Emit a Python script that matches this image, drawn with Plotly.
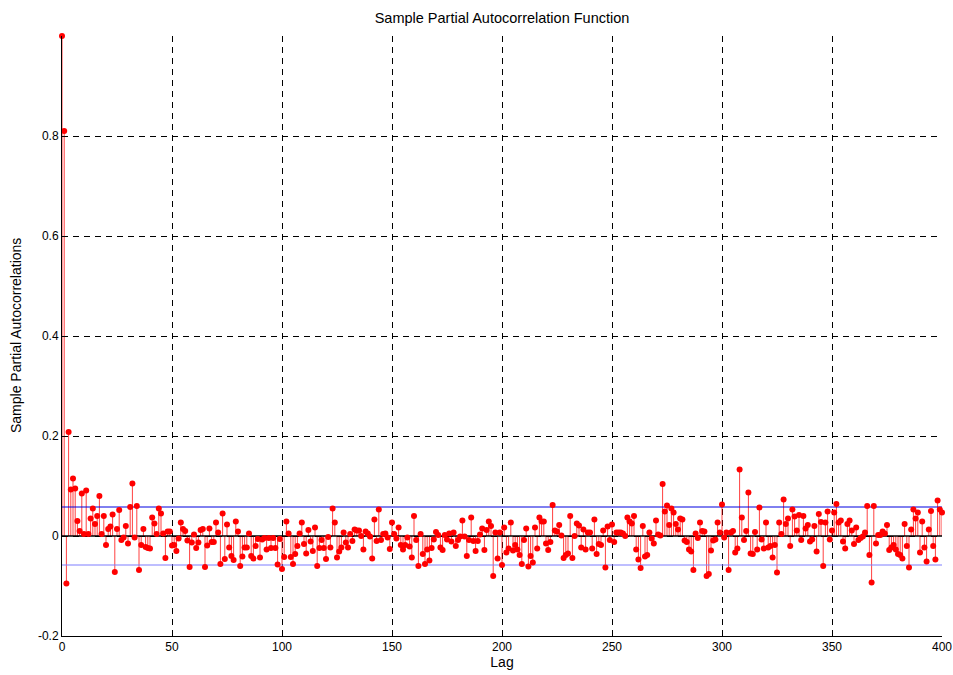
import plotly.graph_objects as go

# Lags 0..400
lags = list(range(401))

pacf_0_39 = [1.0, 0.81, -0.095, 0.208, 0.093, 0.115, 0.095, 0.03, 0.01, 0.085,
             0.004, 0.091, 0.004, 0.035, 0.055, 0.024, 0.04, 0.08, 0.004, 0.04,
             -0.018, 0.014, 0.019, 0.043, -0.072, 0.014, 0.052, -0.008, -0.003, 0.02,
             -0.015, 0.058, 0.105, -0.003, 0.06, -0.068, -0.018, 0.014, -0.022, -0.024]
pacf_40_79 = [-0.025, 0.037, 0.025, 0.004, 0.055, 0.045, 0.005, -0.044, 0.009, 0.009,
              -0.019, -0.018, -0.03, -0.005, 0.027, 0.014, 0.01, -0.009, -0.062, -0.013,
              0.003, -0.024, -0.013, 0.012, 0.014, -0.062, -0.019, 0.015, -0.012, -0.012,
              0.027, 0.007, -0.056, 0.045, -0.046, 0.023, -0.023, -0.04, -0.048, 0.029]
pacf_80_119 = [0.009, -0.06, -0.041, -0.023, -0.023, 0.005, -0.04, -0.045, -0.02, -0.006,
               -0.043, -0.007, -0.004, -0.027, -0.004, -0.024, -0.004, -0.024, -0.057, -0.006,
               -0.066, -0.042, 0.029, 0.005, -0.042, -0.056, -0.036, -0.02, 0.005, 0.027,
               -0.016, -0.035, 0.012, -0.011, -0.03, 0.017, -0.06, -0.024, -0.008, -0.024]
pacf_120_159 = [-0.046, -0.002, -0.023, 0.055, 0.027, -0.043, -0.031, -0.023, 0.007, -0.013,
                -0.023, 0.004, -0.01, 0.013, 0.011, 0.011, 0.0, -0.027, 0.009, 0.005,
                -0.001, -0.045, 0.033, -0.01, 0.053, -0.008, 0.004, 0.005, -0.003, -0.026,
                0.027, 0.004, -0.005, 0.017, -0.018, -0.027, -0.018, -0.003, -0.021, -0.043]
pacf_160_199 = [0.04, -0.008, -0.06, 0.004, -0.036, -0.056, -0.027, -0.049, -0.024, -0.007,
                0.008, 0.002, -0.023, -0.028, 0.002, -0.007, 0.005, -0.011, 0.007, -0.02,
                -0.008, -0.001, 0.031, -0.001, -0.04, -0.008, 0.037, -0.01, -0.03, -0.01,
                0.003, 0.015, -0.028, 0.012, 0.029, 0.02, -0.08, 0.007, -0.045, 0.007]
pacf_200_239 = [-0.058, 0.017, -0.033, -0.025, 0.027, -0.029, -0.018, -0.027, -0.038, -0.056,
                -0.008, 0.015, -0.061, -0.04, -0.053, 0.017, -0.025, 0.037, 0.029, 0.029,
                -0.015, -0.028, -0.012, 0.062, 0.011, 0.009, 0.022, 0.001, -0.044, -0.038,
                -0.035, 0.04, -0.044, 0.0, 0.025, 0.021, -0.023, 0.013, -0.027, 0.007]
pacf_240_279 = [0.007, -0.025, 0.033, -0.036, -0.016, -0.018, 0.011, -0.063, 0.019, -0.008,
                0.023, -0.012, 0.007, 0.007, 0.007, 0.005, 0.0, 0.037, 0.029, 0.025,
                0.04, -0.027, -0.047, -0.064, 0.02, -0.041, -0.038, 0.007, -0.005, -0.015,
                0.031, 0.003, 0.001, 0.104, 0.049, 0.061, 0.022, 0.055, 0.047, 0.024]
pacf_280_319 = [0.013, 0.035, 0.033, -0.009, -0.012, -0.027, -0.031, -0.068, 0.005, -0.004,
                0.027, 0.01, 0.009, -0.08, -0.076, -0.029, -0.009, -0.007, 0.027, 0.007,
                0.063, -0.003, 0.007, -0.068, 0.007, 0.01, -0.033, -0.025, 0.133, 0.037,
                -0.008, 0.01, 0.087, -0.035, -0.036, 0.008, -0.027, 0.057, -0.007, -0.025]
pacf_320_359 = [0.027, -0.023, -0.02, -0.043, -0.018, -0.073, 0.027, 0.004, 0.073, 0.024,
                0.035, -0.02, 0.053, 0.039, 0.011, 0.042, -0.008, 0.04, 0.015, 0.022,
                -0.011, -0.007, 0.02, -0.031, 0.044, 0.028, -0.06, 0.027, 0.049, -0.007,
                0.011, 0.047, 0.064, 0.027, 0.031, -0.011, -0.025, 0.024, 0.031, 0.011]
pacf_360_400 = [-0.016, 0.017, -0.008, -0.004, -0.001, 0.007, 0.06, -0.038, -0.093, 0.06,
                -0.015, 0.002, 0.002, 0.009, 0.005, 0.022, -0.028, -0.023, -0.018, -0.027,
                -0.036, -0.038, -0.045, 0.024, -0.02, -0.063, 0.013, 0.053, 0.035, 0.047,
                -0.033, 0.029, -0.023, -0.051, 0.013, 0.05, -0.02, -0.047, 0.071, 0.053,
                0.047]

pacf = (pacf_0_39 + pacf_40_79 + pacf_80_119 + pacf_120_159 + pacf_160_199 +
        pacf_200_239 + pacf_240_279 + pacf_280_319 + pacf_320_359 + pacf_360_400)

conf_bound = 0.058
x_ticks = [0, 50, 100, 150, 200, 250, 300, 350, 400]
y_ticks = [-0.2, 0, 0.2, 0.4, 0.6, 0.8]
y_tick_text = ["-0.2", "0", "0.2", "0.4", "0.6", "0.8"]

# stems
stem_x, stem_y = [], []
for lg, v in zip(lags, pacf):
    stem_x += [lg, lg, None]
    stem_y += [0, v, None]

fig = go.Figure()
fig.add_trace(go.Scatter(x=stem_x, y=stem_y, mode="lines",
                         line=dict(color="rgba(255,0,0,0.75)", width=1),
                         hoverinfo="skip", showlegend=False))
fig.add_trace(go.Scatter(x=[lags[0], lags[-1]], y=[0, 0], mode="lines",
                         line=dict(color="black", width=1.5), showlegend=False))
fig.add_trace(go.Scatter(x=[lags[0], lags[-1]], y=[conf_bound, conf_bound], mode="lines",
                         line=dict(color="#0000e0", width=1), showlegend=False))
fig.add_trace(go.Scatter(x=[lags[0], lags[-1]], y=[-conf_bound, -conf_bound], mode="lines",
                         line=dict(color="#7f7fff", width=1.2), showlegend=False))
fig.add_trace(go.Scatter(x=lags, y=pacf, mode="markers",
                         marker=dict(color="#ff0000", size=6),
                         cliponaxis=False, showlegend=False))

font_family = "Liberation Sans, Arial, Helvetica, sans-serif"
W, H = 953, 675
fig.update_layout(
    width=W, height=H,
    margin=dict(l=62, r=11, t=36, b=39, autoexpand=False),
    paper_bgcolor="white", plot_bgcolor="white",
    font=dict(family=font_family, size=12, color="black"),
    title=dict(text="Sample Partial Autocorrelation Function",
               x=(62 + (W - 11 - 62) / 2) / W, xanchor="center",
               y=1 - 18 / H, yanchor="middle",
               yref="container", font=dict(size=14.5, family=font_family)),
    showlegend=False,
    annotations=[dict(text="Sample Partial Autocorrelations", textangle=-90,
                      xref="paper", yref="paper", x=0, y=0.5,
                      xanchor="center", yanchor="middle", xshift=-46,
                      showarrow=False, font=dict(size=14, family=font_family))],
)
fig.update_xaxes(range=[0, 400], tickvals=x_ticks, ticks="inside", ticklen=5,
                 tickcolor="black", showline=True, linecolor="black", linewidth=1,
                 showgrid=True, gridcolor="black", griddash="6px,5px", gridwidth=1,
                 zeroline=False, automargin=False, ticklabeloverflow="allow",
                 title=dict(text="Lag", standoff=1, font=dict(size=14)),
                 tickfont=dict(size=12))
fig.update_yaxes(range=[-0.2, 1.0], tickvals=y_ticks, ticktext=y_tick_text,
                 ticks="inside", ticklen=5, tickcolor="black",
                 showline=True, linecolor="black", linewidth=1,
                 showgrid=True, gridcolor="black", griddash="6px,5px", gridwidth=1,
                 zeroline=False, automargin=False,
                 tickfont=dict(size=12))

fig.write_html(
    "out.html",
    config={"displayModeBar": False},
    post_script="document.body.style.margin='0';document.body.style.overflow='hidden';",
)
